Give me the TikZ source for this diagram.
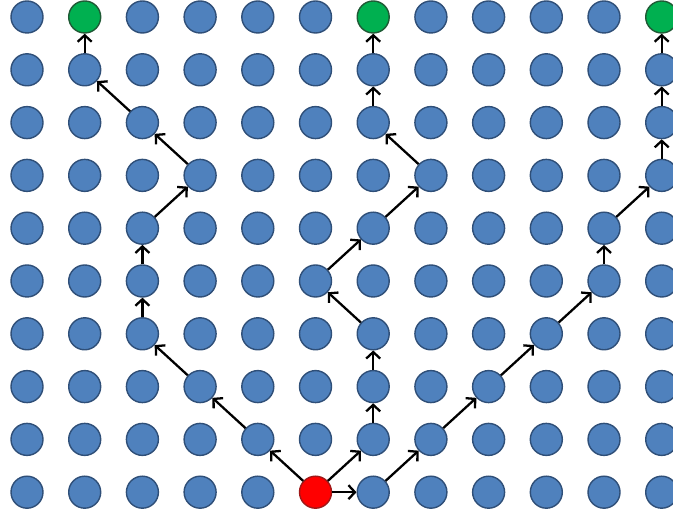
\documentclass[tikz,border=0pt]{standalone}
\usetikzlibrary{arrows.meta}
\definecolor{dotblue}{HTML}{4F81BD}
\definecolor{dotedge}{HTML}{2F4F78}
\definecolor{goalgreen}{HTML}{00B050}
\definecolor{goaledge}{HTML}{1F5A35}
\definecolor{startedge}{HTML}{A01818}
\begin{document}
\begin{tikzpicture}
        \tikzset{dot/.style={circle,draw=dotedge,fill=dotblue,line width=0.8pt,minimum size=6.4mm,inner sep=0pt},
          start dot/.style={fill=red,draw=startedge},
          goal dot/.style={fill=goalgreen,draw=goaledge},
          pick 5-9/.style={start dot},
          pick 1-0/.style={goal dot},
          pick 6-0/.style={goal dot},
          pick 11-0/.style={goal dot},
          hop/.style={-{Straight Barb[length=1.3mm,width=2.8mm]},line width=1.3pt,black}}
        \useasboundingbox (0,0) rectangle (13.46,10.26);
        % lattice of sites
        \foreach \c in {0,...,11}
          \foreach \r in {0,...,9}
            \node[dot,pick \c-\r/.try] (n-\c-\r) at ({0.54+1.154*\c},{9.92-1.056*\r}) {};
        % three walks from the red site
        \foreach \p [remember=\p as \q (initially 5-9)] in {4-8,3-7,2-6,2-5,2-4,3-3,2-2,1-1,1-0}
          \draw[hop] (n-\q) -- (n-\p);
        \foreach \p [remember=\p as \q (initially 5-9)] in {6-8,6-7,6-6,5-5,6-4,7-3,6-2,6-1,6-0}
          \draw[hop] (n-\q) -- (n-\p);
        \foreach \p [remember=\p as \q (initially 5-9)] in {6-9,7-8,8-7,9-6,10-5,10-4,11-3,11-2,11-1,11-0}
          \draw[hop] (n-\q) -- (n-\p);
      \end{tikzpicture}
\end{document}
